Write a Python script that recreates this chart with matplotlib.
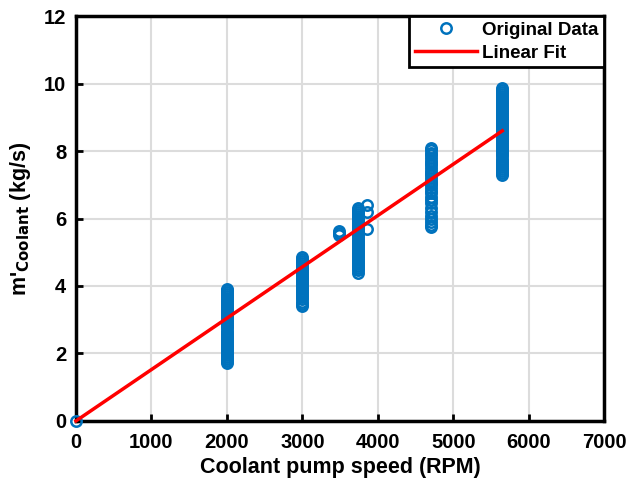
import matplotlib.pyplot as plt
import numpy as np

# pump speed (RPM) groups and measured coolant flow (kg/s)
speeds = [0, 2000, 3000, 3480, 3740, 3860, 4700, 5650]
flows = [
    [0.0],
    [1.72, 1.78, 1.84, 1.9, 1.96, 2.02, 2.08, 2.14, 2.2, 2.26, 2.32, 2.38, 2.44, 2.5,
     2.56, 2.62, 2.68, 2.74, 2.8, 2.86, 2.92, 2.98, 3.04, 3.1, 3.16, 3.22, 3.28, 3.34,
     3.4, 3.46, 3.52, 3.58, 3.64, 3.7, 3.76, 3.82, 3.88, 3.92],
    [3.42, 3.48, 3.54, 3.6, 3.66, 3.72, 3.78, 3.84, 3.9, 3.96, 4.02, 4.08, 4.14, 4.2,
     4.26, 4.32, 4.38, 4.44, 4.5, 4.56, 4.62, 4.68, 4.74, 4.8, 4.86],
    [5.5, 5.56, 5.62],
    [4.4, 4.46, 4.52, 4.58, 4.64, 4.7, 4.76, 4.82, 4.88, 4.94, 5.0, 5.06, 5.12, 5.18,
     5.24, 5.3, 5.36, 5.42, 5.48, 5.54, 5.6, 5.66, 5.72, 5.78, 5.84, 5.9, 5.96, 6.02,
     6.08, 6.14, 6.2, 6.26, 6.3],
    [5.7, 6.2, 6.4],
    [5.75, 5.82, 5.9, 5.98, 6.08, 6.2, 6.32, 6.45, 6.55, 6.65, 6.75, 6.82, 6.9, 6.98,
     7.05, 7.12, 7.2, 7.28, 7.35, 7.42, 7.5, 7.58, 7.65, 7.72, 7.8, 7.88, 7.95, 8.02, 8.1],
    [7.3, 7.36, 7.42, 7.48, 7.54, 7.6, 7.66, 7.72, 7.78, 7.84, 7.9, 7.96, 8.02, 8.08,
     8.14, 8.2, 8.26, 8.32, 8.38, 8.44, 8.5, 8.56, 8.62, 8.68, 8.74, 8.8, 8.86, 8.92,
     8.98, 9.04, 9.1, 9.16, 9.22, 9.28, 9.34, 9.4, 9.46, 9.52, 9.58, 9.64, 9.7, 9.76,
     9.82, 9.86],
]
fit_x = [0, 5650]
fit_y = [0, 8.6]

x = np.concatenate([[s] * len(f) for s, f in zip(speeds, flows)])
y = np.concatenate(flows)

plt.rcParams['font.family'] = ['Liberation Sans', 'DejaVu Sans']
plt.rcParams['font.weight'] = 'bold'
plt.rcParams['mathtext.default'] = 'bf'

fig = plt.figure(figsize=(6.28, 4.9), dpi=100)
ax = fig.add_axes([0.121, 0.141, 0.841, 0.826])

ax.plot(x, y, 'o', markerfacecolor='none', markeredgecolor='#0072BD',
        markersize=7.5, markeredgewidth=1.8, label='Original Data', zorder=3,
        clip_on=False)
ax.plot(fit_x, fit_y, '-', color='#FF0000', linewidth=2.5, label='Linear Fit',
        zorder=4, clip_on=False)

ax.set_xlim(0, 7000)
ax.set_ylim(0, 12)
ax.set_xticks(range(0, 7001, 1000))
ax.set_yticks(range(0, 13, 2))
ax.grid(True, color='#DCDCDC', linewidth=1.5)
ax.set_axisbelow(True)
ax.tick_params(direction='in', length=5, width=2, top=False, right=False,
               labelsize=14.5)
ax.tick_params(axis='x', pad=9)
ax.tick_params(axis='y', pad=7)
for sp in ax.spines.values():
    sp.set_linewidth(2.5)

ax.set_xlabel('Coolant pump speed (RPM)', fontsize=15.5, fontweight='bold', labelpad=3)
ax.set_ylabel(r"m'$_{\mathbf{Coolant}}$ (kg/s)", fontsize=15.5, fontweight='bold',
              labelpad=8)

leg = ax.legend(loc='upper right', fontsize=13.5, frameon=True, fancybox=False,
                borderpad=0.3, handlelength=3.3, handletextpad=0.3,
                labelspacing=0.3, borderaxespad=0.0)
leg.get_frame().set_edgecolor('black')
leg.get_frame().set_linewidth(2)
leg.get_frame().set_alpha(1)

plt.savefig('out.png', dpi=100)
